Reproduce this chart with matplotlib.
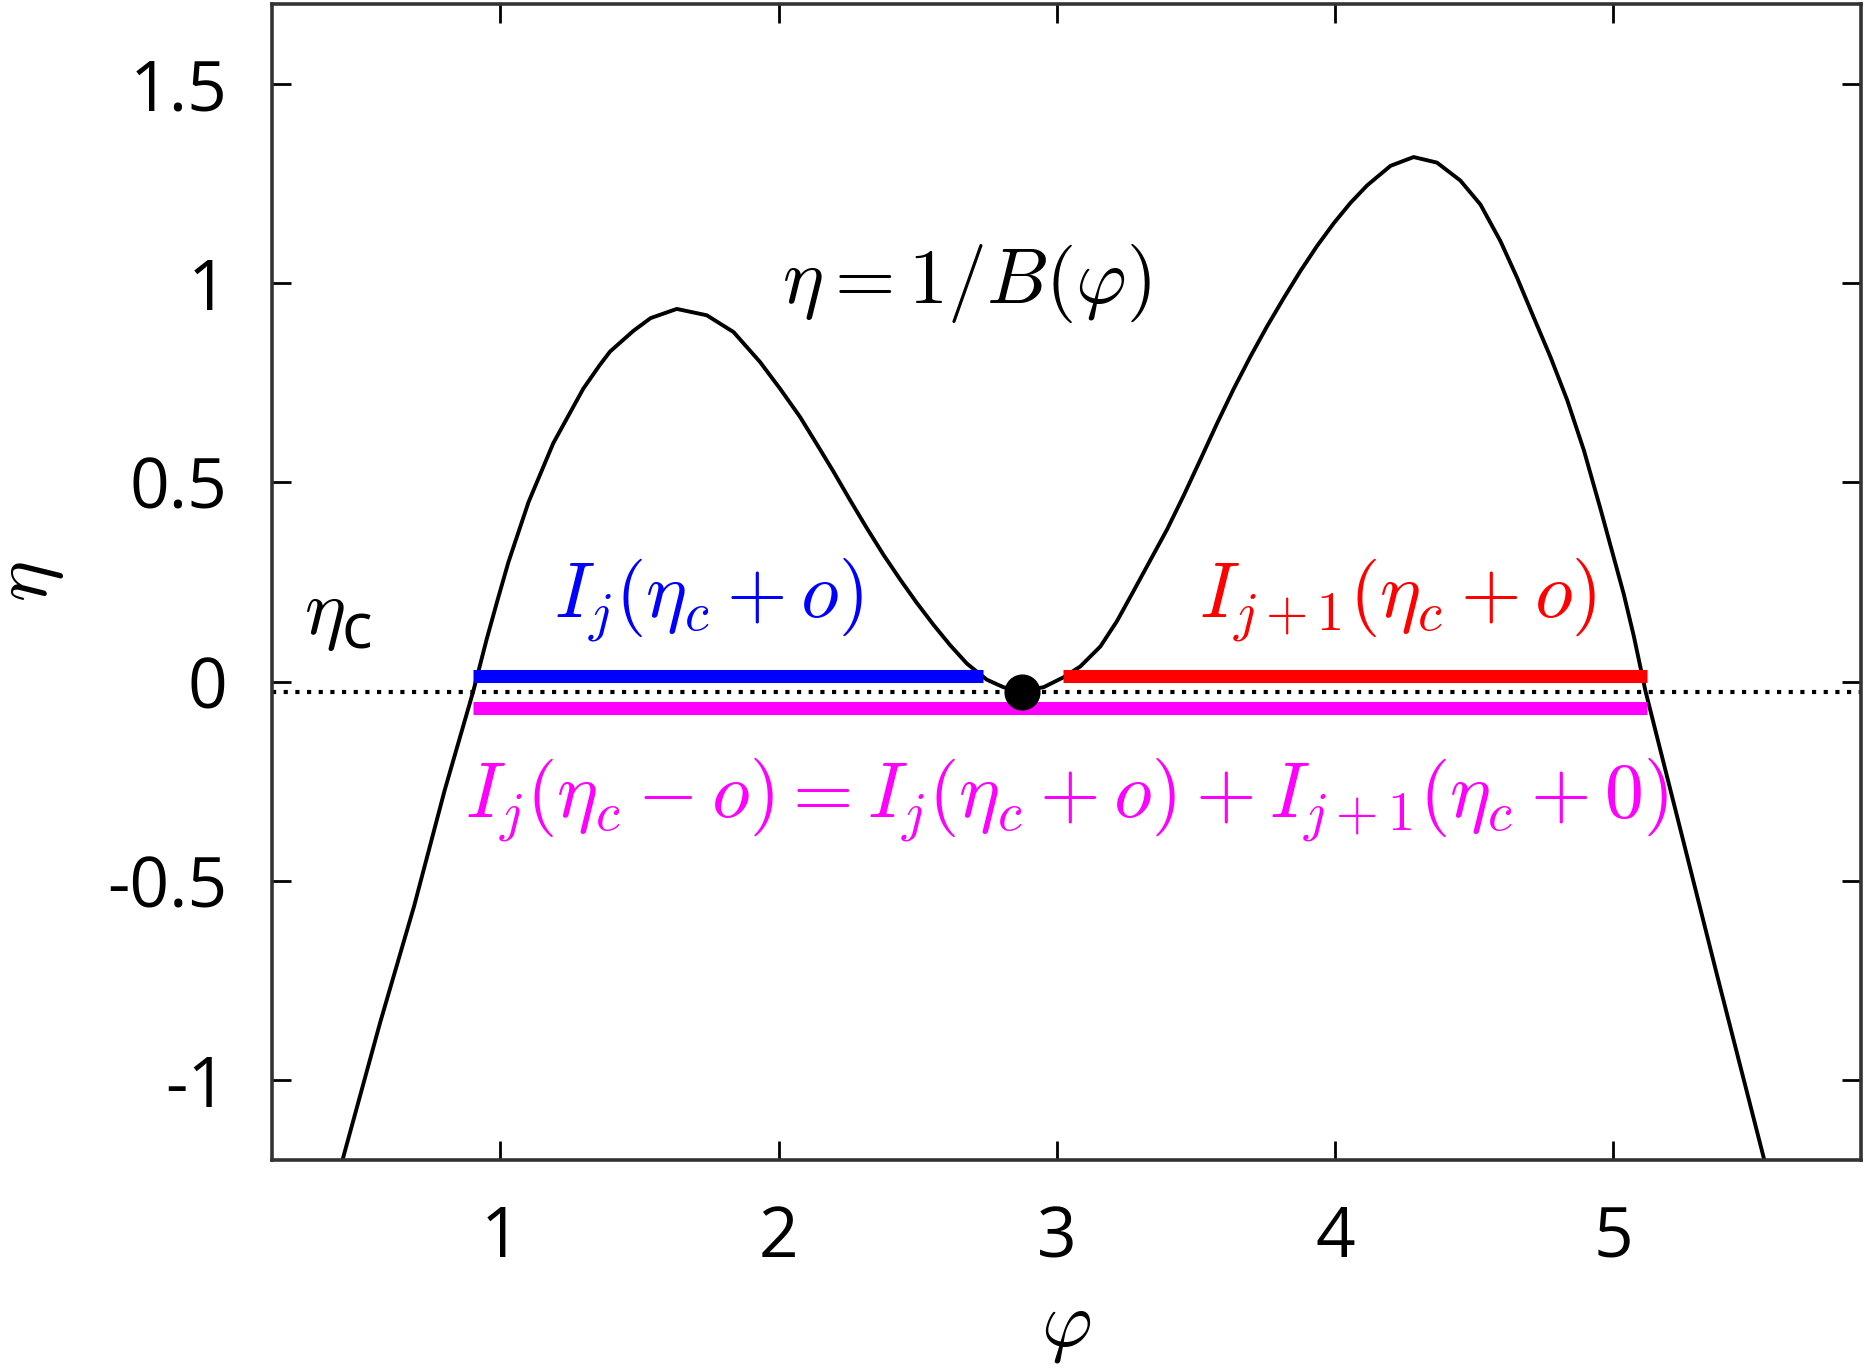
import matplotlib
matplotlib.use('Agg')
import matplotlib.pyplot as plt
import numpy as np

matplotlib.rcParams['mathtext.fontset'] = 'cm'
matplotlib.rcParams['font.family'] = 'Open Sans'

# curve eta = 1/B(phi)
phi = [0.435, 0.568, 0.690, 0.800, 0.903, 0.951, 0.990, 1.029, 1.101, 1.190,
       1.298, 1.358, 1.394, 1.478, 1.540, 1.634, 1.742, 1.838, 1.933, 2.005,
       2.077, 2.137, 2.197, 2.257, 2.317, 2.377, 2.437, 2.496, 2.556, 2.617,
       2.677, 2.748, 2.808, 2.874, 2.952, 3.024, 3.084, 3.156, 3.216, 3.276,
       3.336, 3.396, 3.455, 3.515, 3.575, 3.635, 3.695, 3.755, 3.815, 3.875,
       3.935, 3.995, 4.055, 4.115, 4.199, 4.282, 4.366, 4.450, 4.522, 4.594,
       4.654, 4.714, 4.774, 4.834, 4.894, 4.954, 5.037, 5.073, 5.115, 5.253,
       5.373, 5.540]
eta = [-1.194, -0.855, -0.563, -0.272, -0.023, 0.107, 0.205, 0.300, 0.450, 0.598,
       0.735, 0.795, 0.828, 0.880, 0.912, 0.935, 0.919, 0.877, 0.802, 0.735,
       0.664, 0.596, 0.527, 0.455, 0.385, 0.318, 0.256, 0.198, 0.143, 0.091,
       0.045, 0.005, -0.014, -0.023, -0.014, 0.011, 0.038, 0.088, 0.152, 0.228,
       0.305, 0.382, 0.466, 0.556, 0.647, 0.734, 0.815, 0.891, 0.962, 1.030,
       1.093, 1.150, 1.201, 1.245, 1.294, 1.316, 1.302, 1.257, 1.197, 1.105,
       1.013, 0.913, 0.814, 0.706, 0.580, 0.432, 0.220, 0.115, -0.023, -0.405,
       -0.738, -1.194]

eta_c = -0.025
phi_c = 2.874

# intervals
blue_seg = [0.90, 2.735]
red_seg = [3.023, 5.119]
mag_seg = [0.90, 5.119]
blue_y = 0.015
mag_y = -0.065

xticks = [1, 2, 3, 4, 5]
yticks = [-1, -0.5, 0, 0.5, 1, 1.5]
ytick_labels = ['-1', '-0.5', '0', '0.5', '1', '1.5']

fig = plt.figure(figsize=(9.325, 6.855), dpi=200)
ax = fig.add_axes([0.1458, 0.1539, 0.8521, 0.8432])

ax.axhline(eta_c, color='black', lw=1.5, ls=(0, (1.0, 1.8)))
ax.plot(phi, eta, color='black', lw=1.4)
ax.plot(blue_seg, [blue_y, blue_y], color='blue', lw=4.7, solid_capstyle='butt')
ax.plot(red_seg, [blue_y, blue_y], color='red', lw=4.7, solid_capstyle='butt')
ax.plot(mag_seg, [mag_y, mag_y], color='magenta', lw=4.7, solid_capstyle='butt')
ax.plot([phi_c], [eta_c], 'o', color='black', ms=12)

fs = 28
ax.text(2.674, 1.0, r'$\eta = 1/B(\varphi)$', fontsize=fs, ha='center', va='center')
ax.text(1.747, 0.162, r'$I_j(\eta_c + o)$', fontsize=fs, color='blue', ha='center', va='baseline')
ax.text(4.224, 0.162, r'$I_{j+1}(\eta_c + o)$', fontsize=fs, color='red', ha='center', va='baseline')
ax.text(3.034, -0.341, r'$I_j(\eta_c - o) = I_j(\eta_c + o) + I_{j+1}(\eta_c + 0)$',
        fontsize=fs, color='magenta', ha='center', va='baseline')
ax.text(0.366, 0.17, r'$\eta$', fontsize=fs, ha='center', va='center')
ax.text(0.485, 0.125, 'c', fontsize=23, ha='center', va='center')

ax.set_xlim(0.179, 5.89)
ax.set_ylim(-1.2, 1.7)
ax.set_xticks(xticks)
ax.set_yticks(yticks)
ax.set_yticklabels(ytick_labels)
ax.tick_params(direction='in', length=7, width=1, labelsize=25, pad=16,
               top=True, right=True)
for s in ax.spines.values():
    s.set_linewidth(1.3)
    s.set_color('#333333')

ax.set_xlabel(r'$\varphi$', fontsize=fs, labelpad=4)
ax.set_ylabel(r'$\eta$', fontsize=fs, labelpad=15)

plt.savefig('out.png', dpi=200)
